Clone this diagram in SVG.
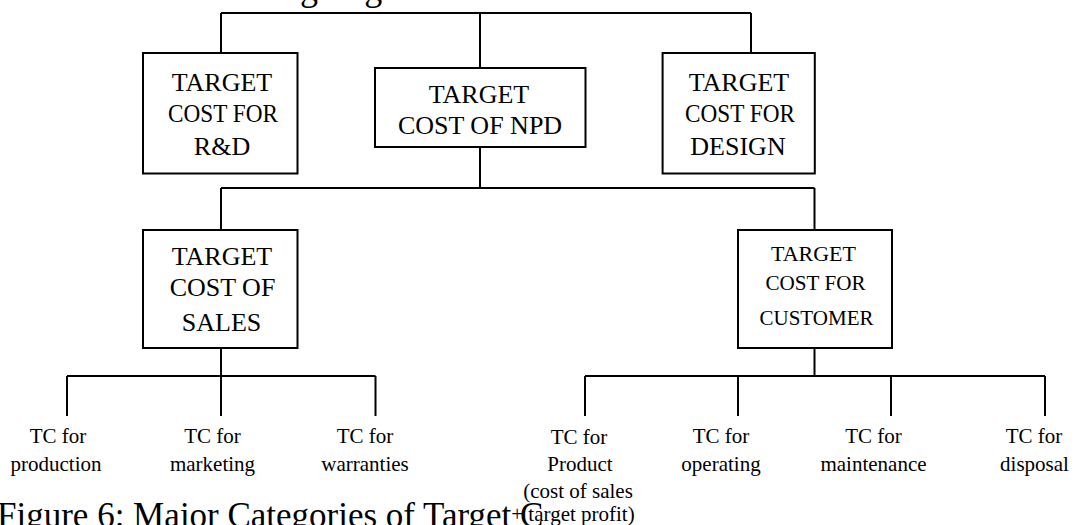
<svg xmlns="http://www.w3.org/2000/svg" width="1083" height="525" viewBox="0 0 1083 525">
<style>
  text { font-family: "Liberation Serif", "Times New Roman", serif; fill: #000; text-anchor: middle; }
  .box { fill: #fff; stroke: #000; stroke-width: 2; }
  .conn { fill: none; stroke: #000; stroke-width: 2; }
  .bt { font-size: 26px; }
  .bs { font-size: 22px; }
  .lt { font-size: 21px; }
  .cap { font-size: 35px; text-anchor: start; }
  .top { font-size: 36px; text-anchor: start; }
</style>
<rect width="1083" height="525" fill="#fff"/>
<text id="top-text" class="top" x="-37" y="-0.5">for elaboration in setting target costs.</text>
<text id="caption" class="cap" x="-3" y="527">Figure 6: Major Categories of Target C</text>
<g id="connectors" class="conn">
  <path d="M221,13 H751 M221,13 V53 M480,13 V68 M751,13 V53"/>
  <path d="M480,147 V188 M221,188 H814.5 M221,188 V230 M814.5,188 V230"/>
  <path d="M221,348 V416 M67,376 H375.5 M67,376 V416 M375.5,376 V416"/>
  <path d="M814.5,348 V376 M585,376 H1045 M585,376 V416 M738,376 V416 M891,376 V416 M1045,376 V416"/>
</g>
<g id="node-rd">
  <rect class="box" x="143" y="53" width="154.5" height="120.5"/>
  <text class="bt" x="222" y="91">TARGET</text>
  <text class="bt" x="223" y="122" textLength="110" lengthAdjust="spacingAndGlyphs">COST FOR</text>
  <text class="bt" x="222" y="155">R&amp;D</text>
</g>
<g id="node-npd">
  <rect class="box" x="375" y="68" width="210.5" height="79"/>
  <text class="bt" x="479" y="103">TARGET</text>
  <text class="bt" x="480" y="134">COST OF NPD</text>
</g>
<g id="node-design">
  <rect class="box" x="662.6" y="53" width="152.2" height="120.5"/>
  <text class="bt" x="739" y="91">TARGET</text>
  <text class="bt" x="740" y="122" textLength="110" lengthAdjust="spacingAndGlyphs">COST FOR</text>
  <text class="bt" x="738" y="155">DESIGN</text>
</g>
<g id="node-sales">
  <rect class="box" x="143" y="230" width="154.5" height="118"/>
  <text class="bt" x="222" y="264.5">TARGET</text>
  <text class="bt" x="222.5" y="295.5">COST OF</text>
  <text class="bt" x="221.5" y="331">SALES</text>
</g>
<g id="node-customer">
  <rect class="box" x="738" y="230" width="154" height="118"/>
  <text class="bs" x="813.5" y="261">TARGET</text>
  <text class="bs" x="815.5" y="290" textLength="100" lengthAdjust="spacingAndGlyphs">COST FOR</text>
  <text class="bs" x="816.5" y="324.6" textLength="114" lengthAdjust="spacingAndGlyphs">CUSTOMER</text>
</g>
<g id="leaf-production">
  <text class="lt" x="58" y="443">TC for</text>
  <text class="lt" x="56" y="471">production</text>
</g>
<g id="leaf-marketing">
  <text class="lt" x="212.5" y="443">TC for</text>
  <text class="lt" x="212.5" y="471">marketing</text>
</g>
<g id="leaf-warranties">
  <text class="lt" x="365" y="443">TC for</text>
  <text class="lt" x="365" y="471">warranties</text>
</g>
<g id="leaf-product">
  <text class="lt" x="579" y="444">TC for</text>
  <text class="lt" x="580" y="471">Product</text>
  <text class="lt" x="578" y="498">(cost of sales</text>
  <text class="lt" x="573" y="521">+ target profit)</text>
</g>
<g id="leaf-operating">
  <text class="lt" x="721" y="443">TC for</text>
  <text class="lt" x="721" y="471">operating</text>
</g>
<g id="leaf-maintenance">
  <text class="lt" x="873.5" y="443">TC for</text>
  <text class="lt" x="873.5" y="471">maintenance</text>
</g>
<g id="leaf-disposal">
  <text class="lt" x="1034" y="443">TC for</text>
  <text class="lt" x="1034.5" y="471">disposal</text>
</g>
</svg>
